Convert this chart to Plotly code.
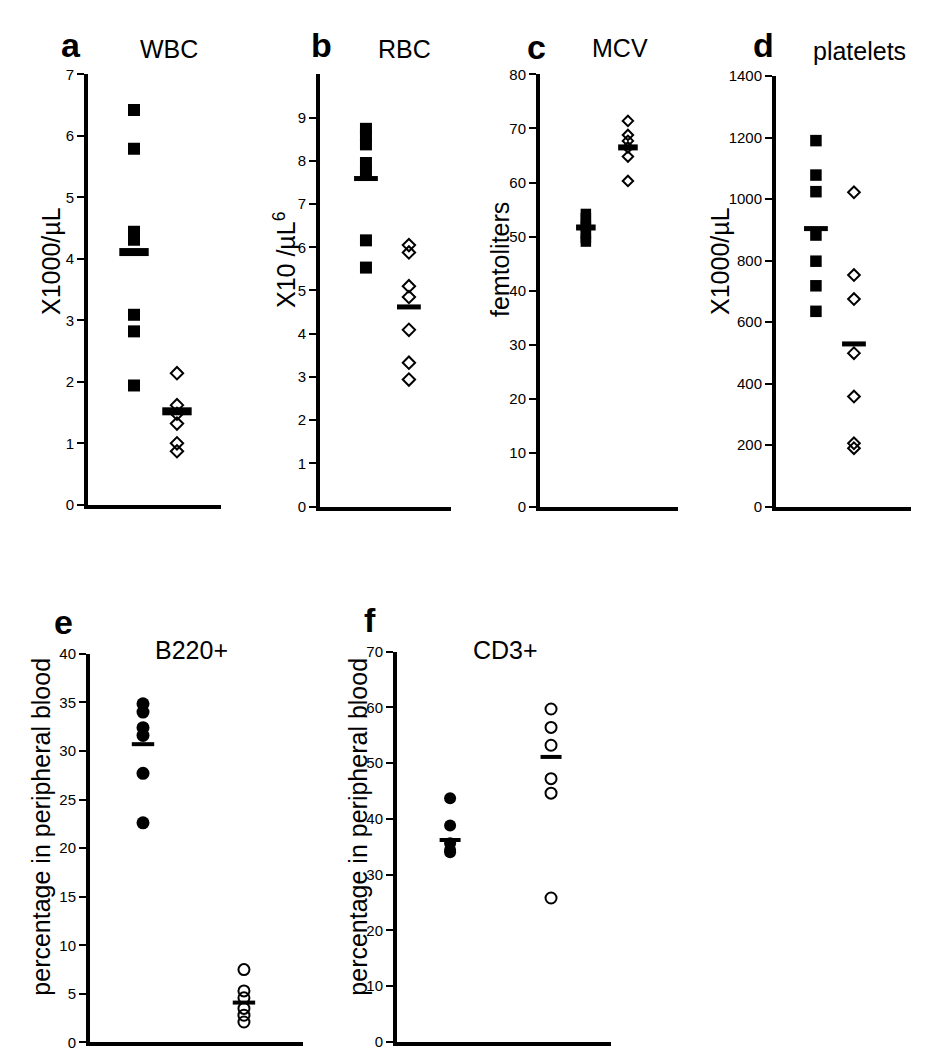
import plotly.graph_objects as go

W, H = 927, 1050
FONT = "Liberation Sans, Arial, Helvetica, sans-serif"

# ---------------- data ----------------
groups = [1, 2]  # 1 = mutant (filled), 2 = control (open)

wbc_filled = [6.42, 5.79, 4.44, 4.31, 3.09, 2.82, 1.94]
wbc_open = [2.14, 1.62, 1.48, 1.32, 1.00, 0.87]
wbc_means = [4.11, 1.52]

rbc_filled = [8.74, 8.58, 8.38, 7.95, 7.72, 6.16, 5.53]
rbc_open = [6.05, 5.88, 5.10, 4.85, 4.09, 3.33, 2.94]
rbc_means = [7.59, 4.62]

mcv_filled = [54.2, 53.4, 52.3, 51.8, 50.6, 49.8, 49.1]
mcv_open = [71.4, 68.8, 67.7, 66.5, 64.8, 60.3]
mcv_means = [51.7, 66.5]

plt_filled = [1190, 1078, 1024, 883, 798, 718, 635]
plt_open = [1022, 753, 675, 499, 358, 206, 190]
plt_means = [904, 529]

b220_filled = [34.85, 34.0, 32.4, 31.6, 27.7, 22.6]
b220_open = [7.5, 5.3, 4.6, 3.5, 2.8, 2.1]
b220_means = [30.7, 4.1]

cd3_filled = [43.7, 38.8, 35.6, 34.4, 34.0]
cd3_open = [59.7, 56.4, 53.2, 47.2, 44.6, 25.8]
cd3_means = [36.2, 51.1]

panel_letters = ["a", "b", "c", "d", "e", "f"]
panel_titles = ["WBC", "RBC", "MCV", "platelets", "B220+", "CD3+"]
y_titles = ["X1000/µL", "X10 /µL<sup>6</sup>", "femtoliters", "X1000/µL",
            "percentage in peripheral blood", "percentage in peripheral blood"]

a_ticks = [0, 1, 2, 3, 4, 5, 6, 7]
b_ticks = [0, 1, 2, 3, 4, 5, 6, 7, 8, 9]
c_ticks = [0, 10, 20, 30, 40, 50, 60, 70, 80]
d_ticks = [0, 200, 400, 600, 800, 1000, 1200, 1400]
e_ticks = [0, 5, 10, 15, 20, 25, 30, 35, 40]
f_ticks = [0, 10, 20, 30, 40, 50, 60, 70]

# ---------------- layout geometry (pixels) ----------------
panels = [
    dict(x0=80, x1=213, yt=58.3, yb=495.8, xr=[-0.071, 3.025], yr=[0, 7], tv=a_ticks,
         f=wbc_filled, o=wbc_open, m=wbc_means, sym=("square", "diamond-open"), sz=(12, 9.5),
         ml=21, mw=8),
    dict(x0=312, x1=443, yt=58.3, yb=497.7, xr=[-0.07, 2.98], yr=[0, 10], tv=b_ticks,
         f=rbc_filled, o=rbc_open, m=rbc_means, sym=("square", "diamond-open"), sz=(12, 9.5),
         ml=17, mw=5),
    dict(x0=532, x1=670, yt=58.3, yb=498.3, xr=[-0.09, 3.19], yr=[0, 80], tv=c_ticks,
         f=mcv_filled, o=mcv_open, m=mcv_means, sym=("square", "diamond-open"), sz=(10.5, 8),
         ml=14, mw=6),
    dict(x0=768, x1=903, yt=60, yb=497.7, xr=[-0.05, 3.5], yr=[0, 1400], tv=d_ticks,
         f=plt_filled, o=plt_open, m=plt_means, sym=("square", "diamond-open"), sz=(11.5, 9),
         ml=17, mw=5),
    dict(x0=82, x1=295, yt=647.3, yb=1042.3, xr=[0.475, 2.585], yr=[0, 40], tv=e_ticks,
         f=b220_filled, o=b220_open, m=b220_means, sym=("circle", "circle-open"), sz=(13, 11),
         ml=16, mw=4),
    dict(x0=389, x1=603, yt=645, yb=1041.7, xr=[0.474, 2.594], yr=[0, 70], tv=f_ticks,
         f=cd3_filled, o=cd3_open, m=cd3_means, sym=("circle", "circle-open"), sz=(12, 11),
         ml=15, mw=4),
]

# annotation positions (pixels)
letter_pos = [(63, 28), (313, 28), (528, 30), (755, 28), (55, 615), (362, 613)]
title_pos = [(161, 33), (396, 33), (612, 32), (851, 35), (183, 643), (497, 643)]
ytitle_pos = [(43, 248), (277, 247), (492, 247), (712, 248), (33, 823), (350, 823)]

fig = go.Figure()
layout = dict(
    width=W, height=H, margin=dict(l=0, r=0, t=0, b=0),
    paper_bgcolor="white", plot_bgcolor="white", showlegend=False,
    font=dict(family=FONT, color="black"),
)

for i, p in enumerate(panels):
    n = i + 1
    xa = "x" if n == 1 else f"x{n}"
    ya = "y" if n == 1 else f"y{n}"
    fsym, osym = p["sym"]
    fs, os_ = p["sz"]
    fig.add_trace(go.Scatter(
        x=[groups[0]] * len(p["f"]), y=p["f"], mode="markers", xaxis=xa, yaxis=ya,
        marker=dict(symbol=fsym, size=fs, color="black", line=dict(width=0)),
        cliponaxis=False, hoverinfo="y"))
    fig.add_trace(go.Scatter(
        x=[groups[1]] * len(p["o"]), y=p["o"], mode="markers", xaxis=xa, yaxis=ya,
        marker=dict(symbol=osym, size=os_, color="black", line=dict(width=2, color="black")),
        cliponaxis=False, hoverinfo="y"))
    fig.add_trace(go.Scatter(
        x=groups, y=p["m"], mode="markers", xaxis=xa, yaxis=ya,
        marker=dict(symbol="line-ew", size=p["ml"], color="black",
                    line=dict(width=p["mw"], color="black")),
        cliponaxis=False, hoverinfo="y"))

    xkey = "xaxis" if n == 1 else f"xaxis{n}"
    ykey = "yaxis" if n == 1 else f"yaxis{n}"
    layout[xkey] = dict(
        domain=[p["x0"] / W, p["x1"] / W], range=p["xr"], anchor=ya,
        showline=True, linewidth=4, linecolor="black", showgrid=False, zeroline=False,
        showticklabels=False, ticks="", fixedrange=True)
    layout[ykey] = dict(
        domain=[1 - p["yb"] / H, 1 - p["yt"] / H], range=p["yr"], anchor=xa,
        showline=True, linewidth=4, linecolor="black", showgrid=False, zeroline=False,
        ticks="outside", ticklen=7, tickwidth=2, tickcolor="black",
        tickvals=p["tv"], tickfont=dict(family=FONT, size=15, color="black"),
        fixedrange=True)

fig.update_layout(**layout)

for i in range(6):
    lx, ly = letter_pos[i]
    fig.add_annotation(x=lx / W, y=1 - ly / H, xref="paper", yref="paper",
                       text=f"<b>{panel_letters[i]}</b>", showarrow=False,
                       font=dict(family=FONT, size=34, color="black"),
                       xanchor="center", yanchor="middle")
    tx, ty = title_pos[i]
    fig.add_annotation(x=tx / W, y=1 - ty / H, xref="paper", yref="paper",
                       text=panel_titles[i], showarrow=False,
                       font=dict(family=FONT, size=25, color="black"),
                       xanchor="center", yanchor="middle")
    ax, ay = ytitle_pos[i]
    fig.add_annotation(x=ax / W, y=1 - ay / H, xref="paper", yref="paper",
                       text=y_titles[i], showarrow=False, textangle=-90,
                       font=dict(family=FONT, size=25, color="black"),
                       xanchor="center", yanchor="middle")

fig.write_html("out.html")
